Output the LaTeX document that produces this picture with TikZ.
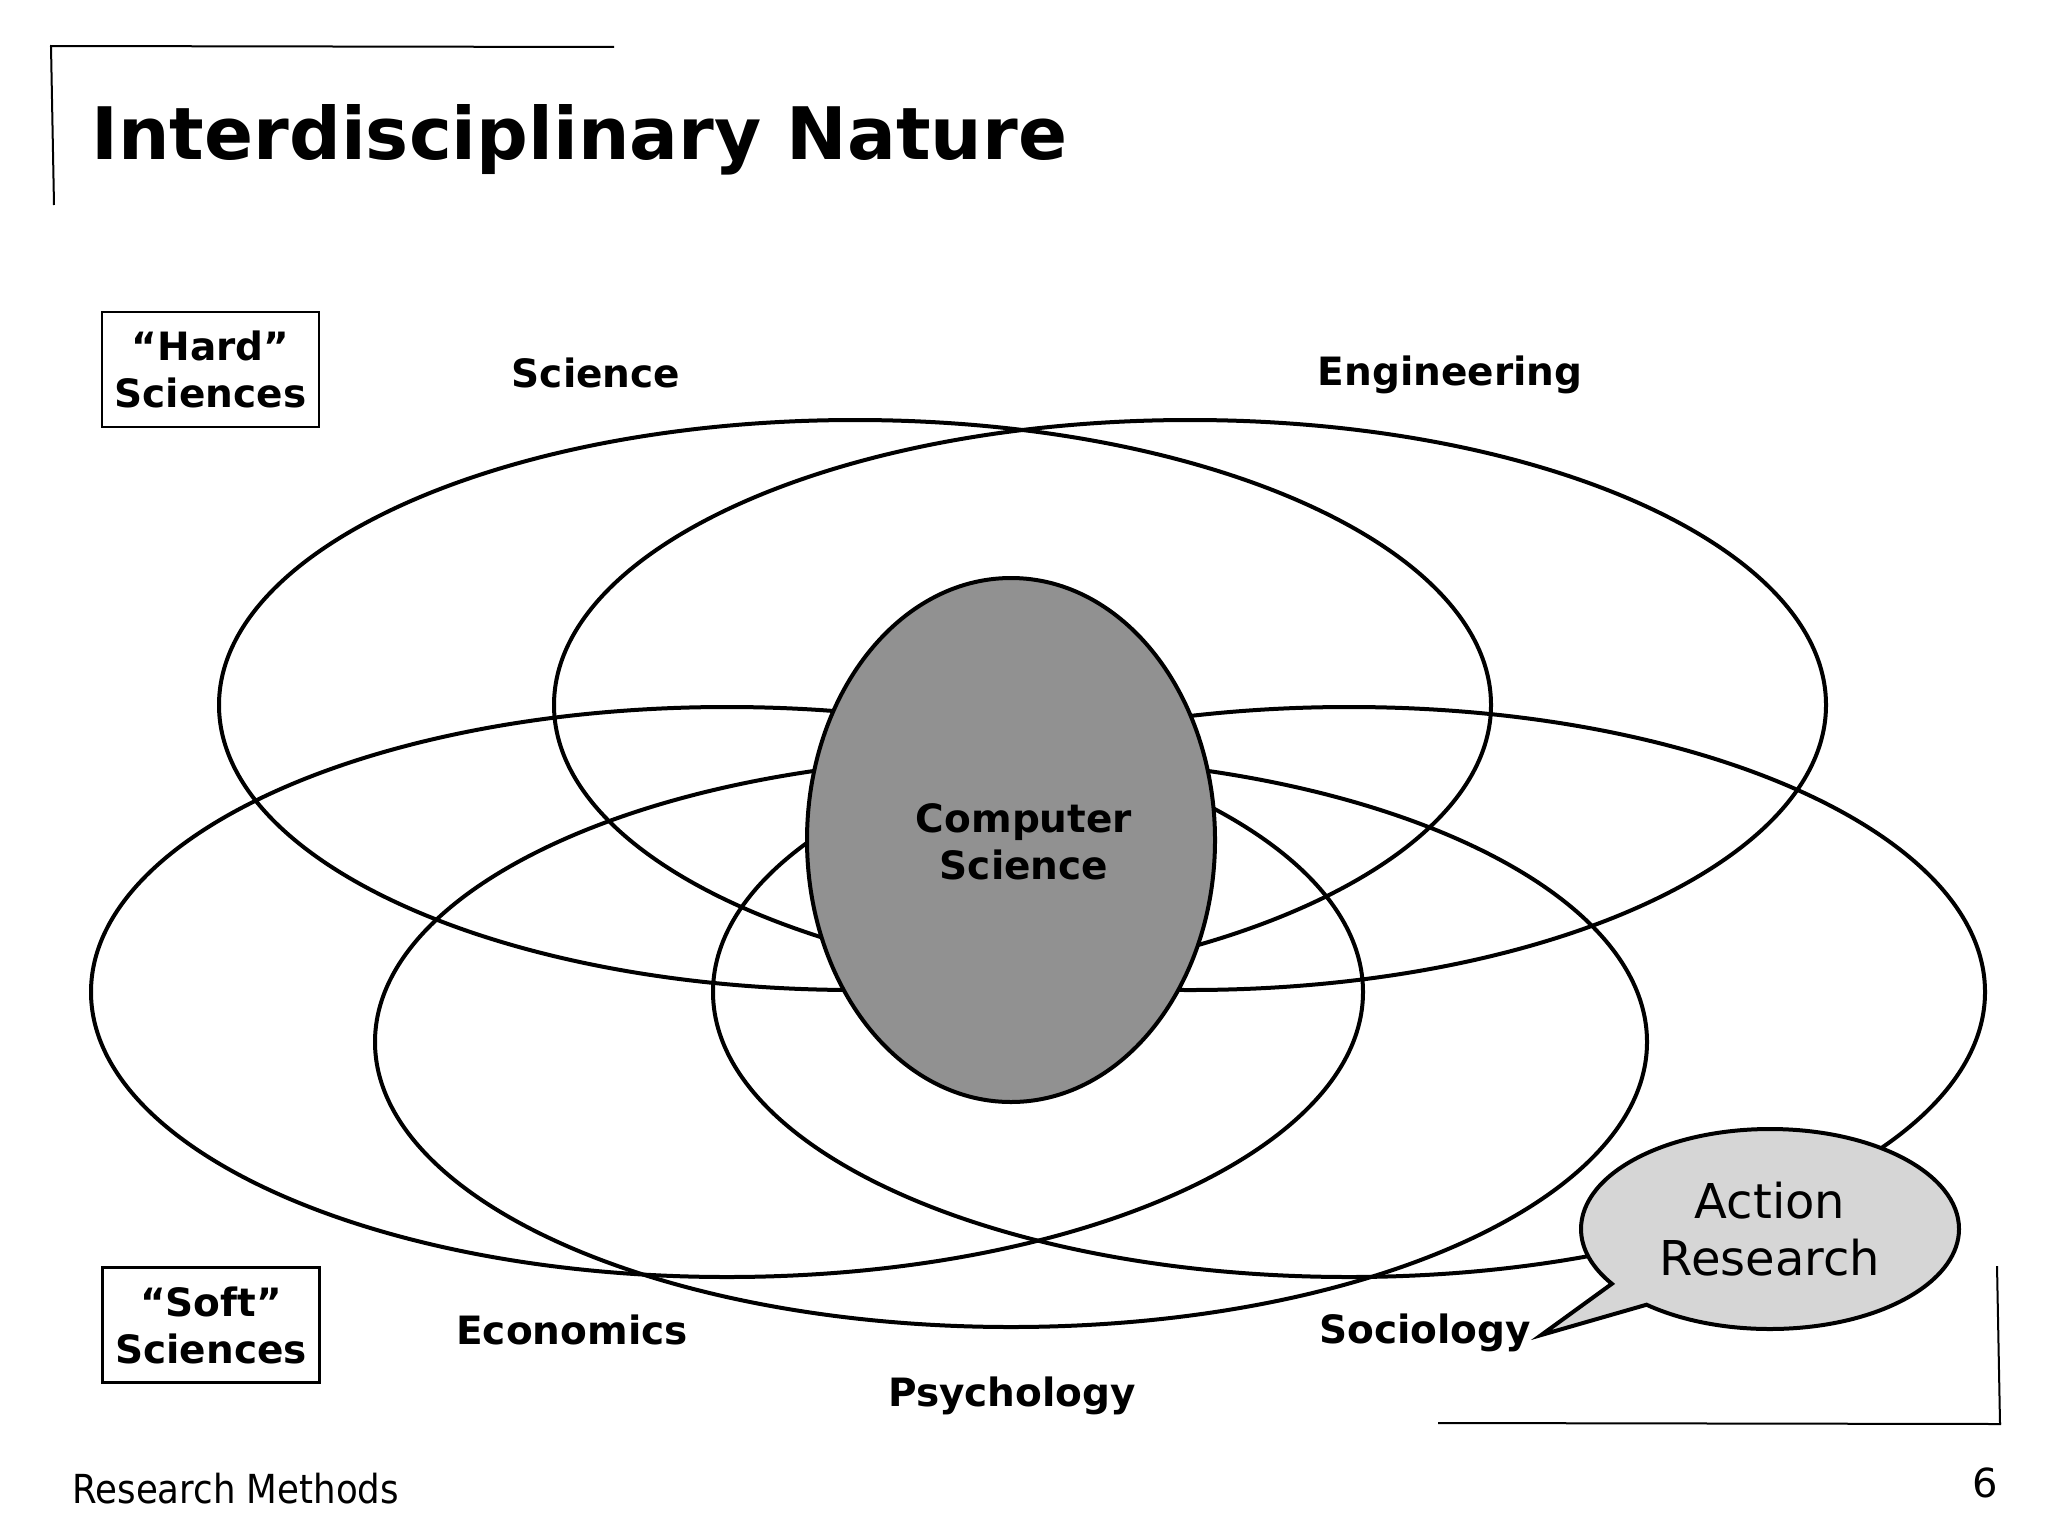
\documentclass[tikz,border=0pt]{standalone}
\usepackage{fontspec}
\usepackage{graphicx}
\setmainfont{DejaVu Sans}
\usetikzlibrary{shapes.geometric,shapes.callouts}
\definecolor{csgray}{HTML}{919191}
\definecolor{argray}{HTML}{D6D6D6}
\tikzset{
  ring/.style={draw, ellipse, line width=2pt, inner sep=0pt, minimum width=636pt, minimum height=285pt},
  lbl/.style={font=\bfseries\fontsize{19.5}{23.5}\selectfont, align=center, inner sep=0pt},
  sbox/.style={draw, line width=1.2pt, minimum width=108.5pt, minimum height=57.5pt, align=center, inner sep=0pt, font=\bfseries\fontsize{19.5}{23.5}\selectfont},
  frame/.style={line width=1pt}
}
\begin{document}
\begin{tikzpicture}[x=0.5pt,y=-0.5pt]
\useasboundingbox[fill=white] (0,0) rectangle (2048,1536);
% frames
\draw[frame] (50,46) -- (614,47);
\draw[frame] (51,46) -- (54,205);
\draw[frame] (1438,1423) -- (2001,1424);
\draw[frame] (1997,1266) -- (2000,1424);
% title
\node[anchor=base west, inner sep=0pt, font=\bfseries\fontsize{36.2}{44}\selectfont] (title) at (91,159) {Interdisciplinary Nature};
% rings
\node[ring] (sci) at (855,705) {};
\node[ring] (eng) at (1190,705) {};
\node[ring] (eco) at (727,992) {};
\node[ring] (soc) at (1349,992) {};
\node[ring] (psy) at (1011,1042) {};
\node[draw, ellipse, line width=2pt, fill=csgray, inner sep=0pt, minimum width=204pt, minimum height=262pt] (cs) at (1011,840) {};
\node[lbl] (cslbl) at (1024,842) {Computer\\Science};
% labels
\node[lbl] (scil) at (596,373) {Science};
\node[lbl] (engl) at (1450,375) {Engineering};
\node[lbl] (ecol) at (572,1330) {Economics};
\node[lbl] (socl) at (1425,1333) {Sociology};
\node[lbl] (psyl) at (1012,1396) {Psychology};
\node[sbox] (hard) at (210.5,369.5) {“Hard”\\Sciences};
\node[sbox] (soft) at (211,1325) {“Soft”\\Sciences};
% callout
\node[ellipse callout, draw, line width=2pt, fill=argray, inner sep=0pt, minimum width=189pt, minimum height=100pt, callout absolute pointer={([xshift=5pt,yshift=-1pt]socl.east)}, callout pointer arc=16, align=center, font=\fontsize{24}{28.8}\selectfont] (ar) at (1770,1229) {Action\\Research};
% footer
\node[anchor=base west, inner sep=0pt] (foot) at (72,1503) {\scalebox{0.89}[1]{\fontsize{20}{24}\selectfont Research Methods}};
\node[anchor=base, inner sep=0pt, font=\fontsize{20}{24}\selectfont] (page) at (1985,1497) {6};
\end{tikzpicture}
\end{document}
